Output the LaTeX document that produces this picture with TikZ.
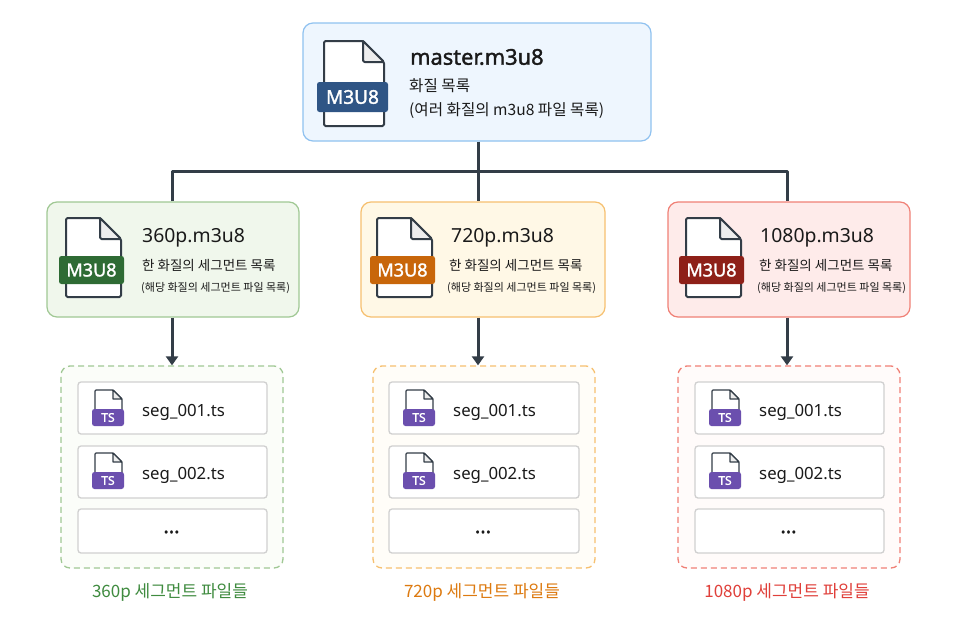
\documentclass[tikz,border=0pt]{standalone}
\usepackage{fontspec}
\setmainfont{Noto Sans}
\newfontfamily\krfont{Noto Sans CJK KR}
\newfontfamily\strongfont[AutoFakeBold=1.6]{Noto Sans}
\usetikzlibrary{arrows.meta,calc}
\definecolor{conn}{HTML}{333D47}
\definecolor{mfill}{HTML}{EEF6FE}\definecolor{mline}{HTML}{90C2F0}
\definecolor{gfill}{HTML}{F0F7EC}\definecolor{gline}{HTML}{A0C894}\definecolor{gtag}{HTML}{2E6B34}\definecolor{gtext}{HTML}{3F8B3F}\definecolor{gpale}{HTML}{FBFDF9}
\definecolor{yfill}{HTML}{FFF8E6}\definecolor{yline}{HTML}{F6C070}\definecolor{ytag}{HTML}{C8660A}\definecolor{ytext}{HTML}{DD7A10}\definecolor{ypale}{HTML}{FFFDF8}
\definecolor{rfill}{HTML}{FEEBEA}\definecolor{rline}{HTML}{F08076}\definecolor{rtag}{HTML}{8E2018}\definecolor{rtext}{HTML}{E0403A}\definecolor{rpale}{HTML}{FFFBFA}
\definecolor{mtag}{HTML}{2F5585}\definecolor{tstag}{HTML}{6B4FAE}\definecolor{rowline}{HTML}{D0D0D0}\definecolor{ink}{HTML}{1A1A1A}
\tikzset{
  x=1pt,y=-1pt,
  panel/.style={draw,line width=1.2pt,rounded corners=10pt,inner sep=0pt},
  dashpanel/.style={draw,line width=1.3pt,rounded corners=9pt,inner sep=0pt,dash pattern=on 6pt off 4pt},
  rowbox/.style={draw=rowline,fill=white,line width=1.3pt,rounded corners=3pt,inner sep=0pt},
  tagbox/.style={rounded corners=2.5pt,inner sep=0pt,text=white},
  wire/.style={draw=conn,line width=3pt},
  wirearrow/.style={wire,-{Triangle[width=12pt,length=9pt]}},
  txt/.style={anchor=west,inner sep=0pt,text=ink},
  pagedoc/.style={draw=conn,fill=white,line width=2pt,line join=round,rounded corners=1.5pt},
  pagefold/.style={draw=conn,fill=black!7,line width=2pt,line join=round},
  tsdoc/.style={draw=conn,fill=white,line width=1.2pt,line join=round,rounded corners=1pt},
  tsfold/.style={draw=conn,fill=black!7,line width=1.2pt,line join=round},
}
\newcommand{\boxat}[6]{\node[#2,minimum width={(#5-#3)*1pt},minimum height={(#6-#4)*1pt}] (#1) at ({(#3+#5)/2},{(#4+#6)/2}) {};}
\newcommand{\mfile}[6]{%
  \draw[pagedoc] (#1,#3) -- (#2-21,#3) -- (#2,#3+21) -- (#2,#4) -- (#1,#4) -- cycle;
  \draw[pagefold] (#2-21,#3) -- (#2-21,#3+17) [rounded corners=1.5pt] -- (#2-21,#3+21) -- (#2,#3+21) [sharp corners] -- cycle;
}
\newcommand{\tag}[7]{\node[tagbox,fill=#2,minimum width={(#4-#3)*1pt},minimum height={(#6-#5)*1pt},font=\strongfont\fontsize{#7}{#7}\selectfont\bfseries] (#1) at ({(#3+#4)/2},{(#5+#6)/2}) {M3U8};}
\newcommand{\tsicon}[3]{%
  \draw[tsdoc] (#2+95,#3+390) -- (#2+113,#3+390) -- (#2+122,#3+399) -- (#2+122,#3+412) -- (#2+95,#3+412) -- cycle;
  \draw[tsfold] (#2+113,#3+390) -- (#2+113,#3+399) -- (#2+122,#3+399) -- cycle;
  \node[tagbox,fill=tstag,minimum width=32pt,minimum height=17pt,font=\strongfont\fontsize{12}{12}\selectfont\bfseries] (#1) at (#2+108,#3+417.5) {TS};
}
\newcommand{\segcol}[9]{%
  \boxat{seg#1}{dashpanel,draw=#2,fill=#3}{#5}{366}{#6}{568}
  \boxat{row#1a}{rowbox}{#7}{382}{#8}{434}
  \boxat{row#1b}{rowbox}{#7}{446}{#8}{498}
  \boxat{row#1c}{rowbox}{#7}{509}{#8}{553}
  \tsicon{ts#1a}{#7-78}{0}
  \tsicon{ts#1b}{#7-78}{63}
  \node[txt,font=\fontsize{16.8}{20}\selectfont] (name#1a) at (#7+64,412) {seg\_001.ts};
  \node[txt,font=\fontsize{16.8}{20}\selectfont] (name#1b) at (#7+64,475) {seg\_002.ts};
  \node[inner sep=0pt,text=ink,font=\strongfont\fontsize{20}{22}\selectfont\bfseries] (more#1) at ({(#7+#8)/2-1},532) {...};
  \node[inner sep=0pt,text=#4,font=\krfont\fontsize{17}{20}\selectfont] (cap#1) at ({(#5+#6)/2-2},592) {#9 세그먼트 파일들};
}
\begin{document}
\begin{tikzpicture}
\useasboundingbox (0,0) rectangle (960,640);
\fill[white] (0,0) rectangle (960,640);

\boxat{master}{panel,draw=mline,fill=mfill}{303}{23}{651}{141}
\mfile{324}{384}{41}{126}{}{}
\tag{mastertag}{mtag}{317}{388}{82}{112}{19}
\node[txt,font=\strongfont\fontsize{21.8}{25}\selectfont\bfseries] (mastertitle) at (410,57) {master.m3u8};
\node[txt,font=\krfont\fontsize{15.6}{19}\selectfont] (mastersub) at (409,86) {화질 목록};
\node[txt,font=\krfont\fontsize{15.6}{19}\selectfont] (masternote) at (409,111) {(여러 화질의 m3u8 파일 목록)};

\boxat{qa}{panel,draw=gline,fill=gfill}{47}{202}{299}{317}
\mfile{66}{121}{218}{297}{}{}
\tag{qatag}{gtag}{59}{124}{256}{284}{18}
\node[txt,font=\fontsize{19.4}{23}\selectfont] (qatitle) at (142,238) {360p.m3u8};
\node[txt,font=\krfont\fontsize{13.5}{16}\selectfont] (qasub) at (142,265) {한 화질의 세그먼트 목록};
\node[txt,font=\krfont\fontsize{11}{13}\selectfont] (qanote) at (141,288) {(해당 화질의 세그먼트 파일 목록)};

\boxat{qb}{panel,draw=yline,fill=yfill}{361}{202}{605}{317}
\mfile{377}{432}{218}{297}{}{}
\tag{qbtag}{ytag}{370}{435}{256}{284}{18}
\node[txt,font=\fontsize{19.4}{23}\selectfont] (qbtitle) at (451,238) {720p.m3u8};
\node[txt,font=\krfont\fontsize{13.5}{16}\selectfont] (qbsub) at (449,265) {한 화질의 세그먼트 목록};
\node[txt,font=\krfont\fontsize{11}{13}\selectfont] (qbnote) at (447,288) {(해당 화질의 세그먼트 파일 목록)};

\boxat{qc}{panel,draw=rline,fill=rfill}{668}{202}{910}{317}
\mfile{686}{741}{218}{297}{}{}
\tag{qctag}{rtag}{679}{744}{256}{284}{18}
\node[txt,font=\fontsize{19.4}{23}\selectfont] (qctitle) at (760,238) {1080p.m3u8};
\node[txt,font=\krfont\fontsize{13.5}{16}\selectfont] (qcsub) at (759,265) {한 화질의 세그먼트 목록};
\node[txt,font=\krfont\fontsize{11}{13}\selectfont] (qcnote) at (757,288) {(해당 화질의 세그먼트 파일 목록)};

\segcol{a}{gline}{gpale}{gtext}{61}{283}{78}{267}{360p}
\segcol{b}{yline}{ypale}{ytext}{373}{595}{389}{579}{720p}
\segcol{c}{rline}{rpale}{rtext}{678}{900}{695}{884}{1080p}

\coordinate (bus) at (478,171);
\coordinate (dropa) at (172,171);
\coordinate (dropc) at (787,171);
\draw[wire] (master.south -| bus) -- (bus);
\draw[wire,line join=round] (dropa |- qa.north) -- (dropa) -- (dropc) -- (dropc |- qc.north);
\draw[wire] (bus) -- (bus |- qb.north);
\draw[wirearrow] (dropa |- qa.south) -- (dropa |- sega.north);
\draw[wirearrow] (bus |- qb.south) -- (bus |- segb.north);
\draw[wirearrow] (dropc |- qc.south) -- (dropc |- segc.north);
\end{tikzpicture}
\end{document}
